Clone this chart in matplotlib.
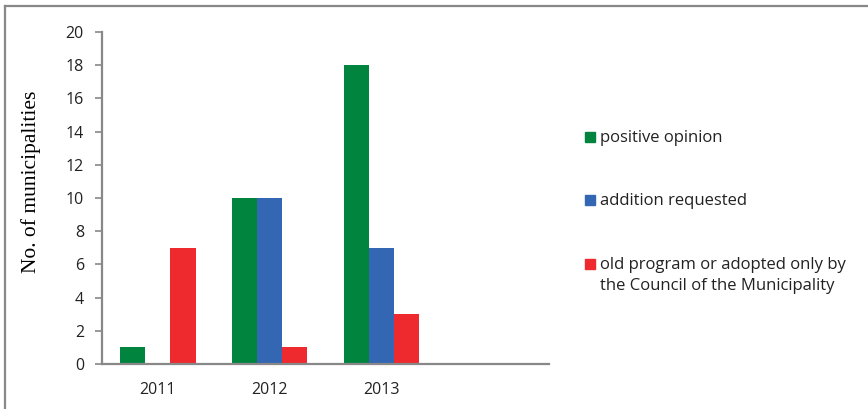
import matplotlib.pyplot as plt
import numpy as np
from matplotlib.lines import Line2D
from matplotlib.patches import Rectangle

years = ['2011', '2012', '2013']
positive = [1, 10, 18]
addition = [0, 10, 7]
old_program = [7, 1, 3]
labels = ['positive opinion', 'addition requested',
          'old program or adopted only by\nthe Council of the Municipality']
colors = ['#00843E', '#3366B3', '#EE2A2F']

plt.rcParams['font.family'] = ['Open Sans', 'DejaVu Sans']

W, H = 868, 409
fig = plt.figure(figsize=(W / 100, H / 100), dpi=100)
ax = fig.add_axes([102 / W, 1 - 364 / H, 447 / W, 332 / H])

x = np.arange(len(years))
w = 0.225
for k, (vals, c) in enumerate(zip([positive, addition, old_program], colors)):
    ax.bar(x + (k - 1) * w, vals, w, color=c)

ax.set_xlim(-0.5, 3.5)
ax.set_ylim(0, 20)
ax.set_yticks(range(0, 21, 2))
ax.set_xticks(x)
ax.set_xticklabels(years)
ax.tick_params(axis='x', length=0, pad=13, labelsize=11.5, colors='#222222')
ax.tick_params(axis='y', length=5, width=1.2, color='#888888', labelsize=11.5,
               labelcolor='#222222', pad=8)
for s in ['top', 'right']:
    ax.spines[s].set_visible(False)
for s in ['left', 'bottom']:
    ax.spines[s].set_color('#888888')
    ax.spines[s].set_linewidth(1.6)

ax.set_ylabel('No. of municipalities', family='Liberation Serif', fontsize=15.5)
ax.yaxis.set_label_coords(-0.137, 0.548)

# legend drawn by hand so the multi-line entry keeps its square on the first line
for lab, c, yc in zip(labels, colors, [137, 200, 264]):
    fig.add_artist(Rectangle((585 / W, 1 - (yc + 5) / H), 10 / W, 10 / H,
                             transform=fig.transFigure, color=c))
    fig.text(600 / W, 1 - (yc - 7) / H, lab, fontsize=12, color='#222222',
             va='top', ha='left', linespacing=1.4)

# outer border (left and top only)
fig.add_artist(Line2D([5 / W, 5 / W], [0, 1 - 6 / H], transform=fig.transFigure,
                      color='#888888', lw=1.6))
fig.add_artist(Line2D([5 / W, 1], [1 - 6 / H, 1 - 6 / H], transform=fig.transFigure,
                      color='#888888', lw=1.6))

fig.savefig('out.png', dpi=100)
